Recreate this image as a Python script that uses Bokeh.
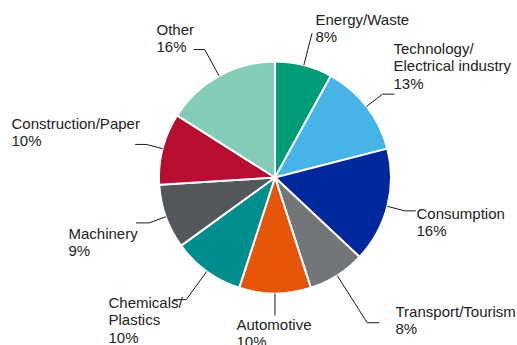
import math
from bokeh.plotting import figure
from bokeh.models import Range1d, ColumnDataSource
from bokeh.core.properties import value
from bokeh.embed import file_html
from bokeh.resources import INLINE

categories = ["Energy/Waste", "Technology/\nElectrical industry", "Consumption",
              "Transport/Tourism", "Automotive", "Chemicals/\nPlastics",
              "Machinery", "Construction/Paper", "Other"]
shares = [8, 13, 16, 8, 10, 10, 9, 10, 16]
colors = ["#009b77", "#46b4e6", "#00289c", "#737679", "#e5560b",
          "#008d8d", "#53565a", "#b70d30", "#84cbb8"]

# layout (page pixel coordinates)
W, H = 517, 345
CX, CY, R = 274.5, 177.0, 116.0
elbow_r = [149, 136, 134, 172, 138, 151, 134, 133, 146]
tail = [0, 12, 11, 12, 0, -13, -13, -11, -11]
label_xy = [(315, 19), (393, 48), (416, 213), (395, 311), (236, 324),
            (108, 302), (68, 233), (11, 123), (156, 29)]
LINE_H = 17.3
FONT = "Liberation Sans"

def dx(px):
    return px
def dy(py):
    return H - py

p = figure(width=W, height=H, output_backend="svg", toolbar_location=None,
           x_range=Range1d(0, W), y_range=Range1d(0, H), min_border=0)
p.axis.visible = False
p.grid.visible = False
p.outline_line_color = None
p.background_fill_color = "white"

total = sum(shares)
starts, ends, mids = [], [], []
a = 90.0
for s in shares:
    span = s / total * 360.0
    starts.append(math.radians(a))
    ends.append(math.radians(a - span))
    mids.append(math.radians(a - span / 2))
    a -= span

src = ColumnDataSource(dict(start=starts, end=ends, color=colors))
p.wedge(x=dx(CX), y=dy(CY), radius=R, start_angle="start", end_angle="end",
        direction="clock", fill_color="color", line_color="white",
        line_width=2, source=src)

xs, ys = [], []
for m, er, t in zip(mids, elbow_r, tail):
    x0 = CX + R * math.cos(m)
    y0 = CY - R * math.sin(m)
    x1 = CX + er * math.cos(m)
    y1 = CY - er * math.sin(m)
    pts_x = [x0, x1]
    pts_y = [y0, y1]
    if t != 0:
        pts_x.append(x1 + t)
        pts_y.append(y1)
    xs.append([dx(v) for v in pts_x])
    ys.append([dy(v) for v in pts_y])
p.multi_line(xs=xs, ys=ys, line_color="#1a1a1a", line_width=1)

tx, ty, tt = [], [], []
for cat, s, (lx, ly) in zip(categories, shares, label_xy):
    lines = cat.split("\n") + [f"{s}%"]
    for i, ln in enumerate(lines):
        tx.append(dx(lx))
        ty.append(dy(ly + i * LINE_H))
        tt.append(ln)
p.text(x=tx, y=ty, text=tt, text_font=value(FONT), text_font_size="15px",
       text_color="#222222", text_baseline="alphabetic", text_align="left")

open("out.html", "w").write(file_html(p, INLINE))
